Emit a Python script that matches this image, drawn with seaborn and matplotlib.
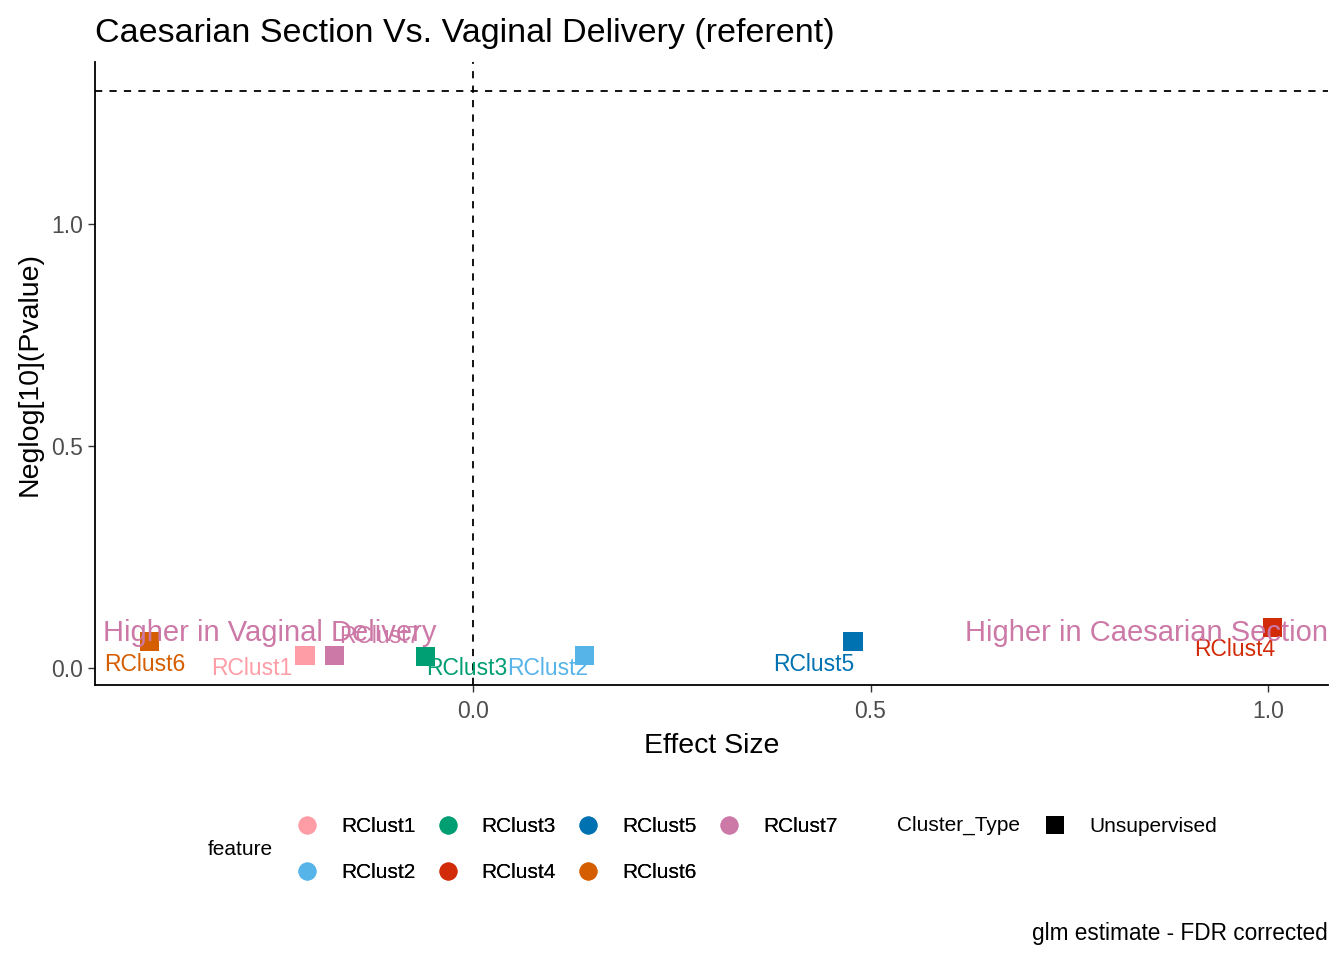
import matplotlib
matplotlib.use("Agg")
import matplotlib.pyplot as plt
from matplotlib.lines import Line2D
import seaborn as sns
import pandas as pd

# values
features = ["RClust1", "RClust2", "RClust3", "RClust4", "RClust5", "RClust6", "RClust7"]
effect = [-0.211, 0.140, -0.059, 1.005, 0.478, -0.406, -0.174]
neglog_p = [0.029, 0.029, 0.027, 0.092, 0.059, 0.059, 0.029]
label_x = [-0.278, 0.094, -0.008, 0.958, 0.428, -0.413, -0.117]
label_y = [-0.002, -0.002, 0.000, 0.041, 0.007, 0.007, 0.072]
colors = ["#FF9DA7", "#56B4E9", "#009E73", "#D22B0A", "#0072B2", "#D55E00", "#CC79A7"]
cluster_type = "Unsupervised"

df = pd.DataFrame({"feature": features, "effect": effect, "neglog_p": neglog_p})
palette = dict(zip(features, colors))

sns.set_style("white")
plt.rcParams["font.family"] = ["Liberation Sans", "DejaVu Sans"]
plt.rcParams["text.color"] = "black"
plt.rcParams["axes.labelcolor"] = "black"

fig = plt.figure(figsize=(13.44, 9.6), dpi=100)
ax = fig.add_axes([0.0707, 0.2865, 0.9173, 0.6485])

sns.scatterplot(data=df, x="effect", y="neglog_p", hue="feature", palette=palette,
                marker="s", s=190, linewidth=0, legend=False, ax=ax, zorder=3)

ax.axhline(1.30103, color="black", linestyle=(0, (4, 4)), linewidth=1.3)
ax.axvline(0, color="black", linestyle=(0, (4, 4)), linewidth=1.3)

for f, lx, ly in zip(features, label_x, label_y):
    ax.text(lx, ly, f, color=palette[f], fontsize=16.5, ha="center", va="center", zorder=4)

ax.text(-0.465, 0.079, "Higher in Vaginal Delivery", color="#CC79A7", fontsize=21,
        ha="left", va="center", zorder=5)
ax.text(1.075, 0.079, "Higher in Caesarian Section", color="#CC79A7", fontsize=21,
        ha="right", va="center", zorder=5)

ax.set_xlim(-0.475, 1.075)
ax.set_ylim(-0.038, 1.365)
ax.set_xticks([0.0, 0.5, 1.0])
ax.set_yticks([0.0, 0.5, 1.0])
ax.set_xticklabels(["0.0", "0.5", "1.0"])
ax.set_yticklabels(["0.0", "0.5", "1.0"])
ax.tick_params(axis="both", labelsize=16.5, labelcolor="#4D4D4D", color="#333333",
               length=5, width=1, bottom=True, left=True)
ax.tick_params(axis="x", pad=6)
sns.despine(ax=ax)
for sp in ["left", "bottom"]:
    ax.spines[sp].set_color("black")
    ax.spines[sp].set_linewidth(1.3)

ax.set_xlabel("Effect Size", fontsize=20.5, labelpad=7)
ax.set_ylabel("Neglog[10](Pvalue)", fontsize=20.5, labelpad=6)
ax.set_title("Caesarian Section Vs. Vaginal Delivery (referent)", fontsize=24.5,
             loc="left", pad=15)

# legends
feat_handles = [Line2D([], [], marker="o", linestyle="", markersize=13,
                       markerfacecolor=c, markeredgewidth=0) for c in colors]
leg1 = fig.legend(feat_handles, features, loc="upper left", bbox_to_anchor=(0.2207, 0.1485),
                  ncol=4, frameon=False, fontsize=15, handlelength=1.0, handletextpad=1.13,
                  columnspacing=1.05, labelspacing=1.29, borderpad=0, borderaxespad=0)
fig.text(0.1548, 0.1156, "feature", fontsize=15, va="center", ha="left")
fig.text(0.6674, 0.1406, "Cluster_Type", fontsize=15, va="center", ha="left")
type_handle = [Line2D([], [], marker="s", linestyle="", markersize=13,
                      markerfacecolor="black", markeredgewidth=0)]
fig.legend(type_handle, [cluster_type], loc="upper left", bbox_to_anchor=(0.7772, 0.1485),
           frameon=False, fontsize=15, handlelength=1.0, handletextpad=1.13,
           borderpad=0, borderaxespad=0)
fig.add_artist(leg1)

fig.text(0.988, 0.028, "glm estimate - FDR corrected", fontsize=16.3, ha="right", va="center")

fig.savefig("out.png", dpi=100)
